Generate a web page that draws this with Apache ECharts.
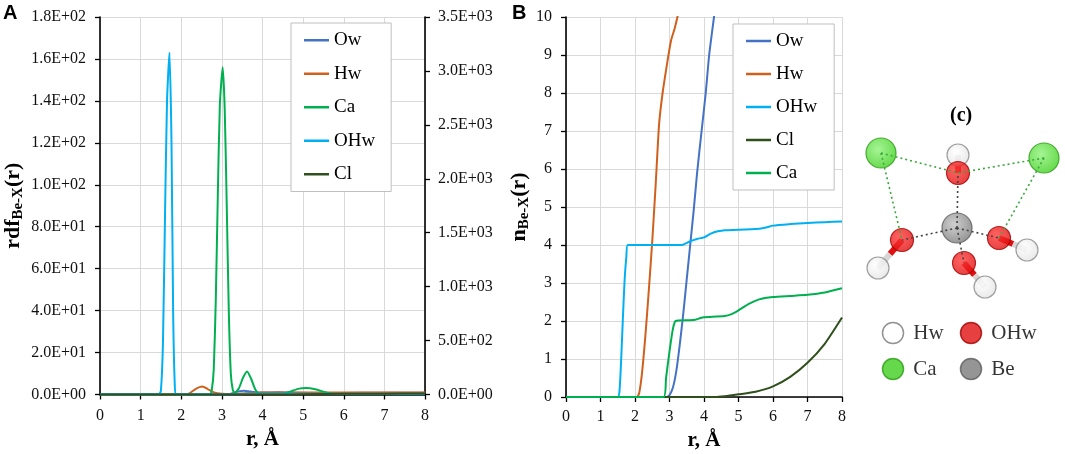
<!DOCTYPE html>
<html><head><meta charset="utf-8">
<script src="https://cdn.jsdelivr.net/npm/echarts@6/dist/echarts.min.js"></script>
<style>html,body{margin:0;padding:0;background:#fff}#c{width:1065px;height:454px}</style>
</head><body><div id="c"></div>
<script>
// ---------- Panel A: rdf Be-X(r) ----------
var rdfOw  = [[0,0],[3.0,0],[3.2,0.3],[3.4,1.4],[3.55,1.8],[3.7,1.4],[4.0,0.9],[4.4,1.1],[4.8,0.8],[5.5,0.7],[6.5,0.8],[8,0.8]];
var rdfHw  = [[0,0],[2.1,0],[2.2,0.5],[2.35,2.6],[2.52,3.8],[2.65,2.6],[2.8,1.0],[3.0,0.3],[3.3,0.2],[3.6,0.6],[4.0,0.9],[5,0.9],[6,0.9],[7,1.0],[8,1.0]];
var rdfCa  = [[0,0],[2.7,0],[2.75,2],[2.8,12],[2.85,45],[2.9,95],[2.95,138],[3.02,156],[3.07,136],[3.12,90],[3.17,40],[3.22,10],[3.27,2],[3.32,0.8],[3.42,3],[3.52,8],[3.62,11],[3.72,7.5],[3.82,2.5],[3.92,0.3],[4.5,0.3],[4.7,1.5],[4.9,2.8],[5.07,3.1],[5.3,2.5],[5.6,0.8],[5.8,0.2],[8,0.2]];
var rdfOHw = [[0,0],[1.45,0],[1.5,2],[1.55,25],[1.6,85],[1.65,140],[1.71,163],[1.76,120],[1.8,40],[1.84,5],[1.88,0],[3.4,0],[3.6,0.3],[8,0.3]];
var rdfCl  = [[0,0],[4.5,0],[5,0.1],[6,0.3],[7,0.4],[8,0.5]];
var legendA = ['Ow','Hw','Ca','OHw','Cl'];

// ---------- Panel B: n Be-X(r) ----------
var nOw  = [[0,0],[2.92,0],[3.0,0.05],[3.1,0.25],[3.2,0.7],[3.3,1.4],[3.4,2.2],[3.5,3.1],[3.6,4.0],[3.7,4.9],[3.8,5.9],[3.93,7.0],[4.05,8.0],[4.15,9.0],[4.29,10.0],[4.4,10.8]];
var nHw  = [[0,0],[2.05,0],[2.12,0.1],[2.2,0.6],[2.3,1.6],[2.4,2.8],[2.5,4.1],[2.6,5.6],[2.7,7.2],[2.8,8.0],[2.9,8.6],[2.97,9.0],[3.05,9.4],[3.15,9.7],[3.23,10.0],[3.35,10.5]];
var nOHw = [[0,0],[1.5,0],[1.55,0.15],[1.6,1.0],[1.65,2.1],[1.7,3.1],[1.75,3.7],[1.79,4.0],[3.35,4.0],[3.45,4.03],[3.6,4.1],[3.8,4.16],[4.0,4.2],[4.2,4.3],[4.4,4.36],[4.6,4.39],[5,4.4],[5.6,4.43],[5.8,4.46],[6,4.51],[6.5,4.55],[7,4.58],[7.5,4.6],[8,4.62]];
var nCl  = [[0,0],[4.3,0],[4.6,0.02],[5,0.07],[5.5,0.14],[6,0.28],[6.5,0.53],[7,0.9],[7.5,1.4],[8,2.09]];
var nCa  = [[0,0],[2.83,0],[2.9,0.5],[3.0,1.2],[3.1,1.8],[3.18,2.0],[3.5,2.02],[3.75,2.03],[3.9,2.08],[4.0,2.1],[4.6,2.13],[4.8,2.18],[5.0,2.28],[5.3,2.45],[5.6,2.57],[6.0,2.63],[6.5,2.66],[7.0,2.69],[7.5,2.75],[8,2.86]];
var legendB = ['Ow','Hw','OHw','Cl','Ca'];

// ---------- Panel (c): atoms (diagram units) ----------
var atomType = ['H','H','H','H','O','O','O','O','Be','Ca','Ca'];
var atomX    = [108, 28, 177, 135, 108, 52, 149, 114, 107, 31, 194];
var atomY    = [55, 168, 150, 187, 73, 140, 138, 163, 128, 53, 58];
var bondOH   = [[4,0],[5,1],[6,2],[7,3]];
var linkCa   = [[9,4],[9,5],[10,4],[10,6]];
var linkBe   = [[8,4],[8,5],[8,6],[8,7]];
var keyNames = ['Hw','OHw','Ca','Be'];
var keyType  = ['H','O','Ca','Be'];
var keyX     = [43, 121, 43, 121];
var keyY     = [233, 233, 269, 269];

var colors = {Ow:'#4472C4', Hw:'#D0601E', Ca:'#00B050', OHw:'#00B0F0', Cl:'#2F4F1C'};
var serif = 'Liberation Serif';

function sci(v){
  if (v === 0) return '0.0E+00';
  var s = v.toExponential(1).split('e'); var e = parseInt(s[1],10);
  return s[0] + 'E' + (e<0?'-':'+') + (Math.abs(e)<10?'0':'') + Math.abs(e);
}
function ln(name, data, gi){
  return {name:name, type:'line', data:data, xAxisIndex:gi, yAxisIndex:gi, showSymbol:false, symbol:'none',
    smooth:0.2, lineStyle:{width:2, color:colors[name], join:'round'}, itemStyle:{color:colors[name]}, clip:true, z:3};
}
var atomStyle = {
  H: {size:22, c0:'#ffffff', c1:'#e2e2e2', b:'#8a8a8a'},
  O: {size:23, c0:'#ff3a3a', c1:'#e01010', b:'#a00000'},
  Be:{size:30, c0:'#c4c4c4', c1:'#7a7a7a', b:'#5a5a5a'},
  Ca:{size:30, c0:'#8ff27a', c1:'#3ed01e', b:'#2a9a14'}
};
function grad(t){ var s=atomStyle[t]; return {type:'radial', x:0.4, y:0.38, r:0.65, colorStops:[{offset:0,color:s.c0},{offset:1,color:s.c1}]}; }

var atomData = atomType.map(function(t,i){
  return {value:[atomX[i], atomY[i]], symbolSize:atomStyle[t].size, itemStyle:{color:grad(t), borderColor:atomStyle[t].b, borderWidth:1.2}};
});
var bondData = [];
bondOH.forEach(function(p){
  var a=p[0], b=p[1]; var mx=(atomX[a]+atomX[b])/2, my=(atomY[a]+atomY[b])/2;
  bondData.push({coords:[[atomX[a],atomY[a]],[mx,my]], lineStyle:{color:'#e01010'}});
  bondData.push({coords:[[mx,my],[atomX[b],atomY[b]]], lineStyle:{color:'#d6d6d6'}});
});
function links(list){ return list.map(function(p){ return {coords:[[atomX[p[0]],atomY[p[0]]],[atomX[p[1]],atomY[p[1]]]]}; }); }
var keyData = keyNames.map(function(n,i){
  var t = keyType[i];
  return {name:n, value:[keyX[i], keyY[i]], symbolSize:21,
    itemStyle:{color:t==='H'?'#ffffff':atomStyle[t].c1, borderColor:t==='H'?'#777':atomStyle[t].b, borderWidth:1.5}};
});

var axisLineBlack = {show:true, lineStyle:{color:'#000', width:1.6}};
var tickOut = {show:true, length:5, lineStyle:{color:'#000', width:1.3}};
var grid = {show:true, lineStyle:{color:'#d9d9d9', width:1}};
var lbl = {fontFamily:serif, fontSize:16, color:'#111'};

function richTitle(main){
  return {
    name: '{a|' + main + '}{b|Be-X}{a|(r)}',
    nameLocation:'middle', nameRotate:90,
    nameTextStyle:{rich:{
      a:{fontFamily:serif, fontSize:22, fontWeight:'bold', color:'#000', lineHeight:26},
      b:{fontFamily:serif, fontSize:15, fontWeight:'bold', color:'#000', verticalAlign:'bottom', padding:[9,0,0,0]}
    }}
  };
}
var yA = Object.assign({type:'value', gridIndex:0, min:0, max:180, interval:20, position:'left',
  axisLine:axisLineBlack, axisTick:tickOut, splitLine:grid, nameGap:74,
  axisLabel:Object.assign({margin:14, formatter:sci}, lbl)}, richTitle('rdf'));
var yB = Object.assign({type:'value', gridIndex:1, min:0, max:10, interval:1, position:'left',
  axisLine:axisLineBlack, axisTick:tickOut, splitLine:grid, nameGap:28,
  axisLabel:Object.assign({margin:14}, lbl)}, richTitle('n'));

var option = {
  animation:false,
  backgroundColor:'#ffffff',
  grid:[
    {left:100, top:17, width:325, height:377.5, outerBoundsMode:'none', containLabel:false},
    {left:566, top:17, width:276, height:380, outerBoundsMode:'none', containLabel:false},
    {left:850, top:100, width:215, height:300, outerBoundsMode:'none', containLabel:false}
  ],
  xAxis:[
    {type:'value', gridIndex:0, min:0, max:8, interval:1, axisLine:axisLineBlack, axisTick:tickOut, splitLine:grid,
     axisLabel:Object.assign({margin:13}, lbl),
     name:'r, Å', nameLocation:'middle', nameGap:35, nameTextStyle:{fontFamily:serif, fontSize:21, fontWeight:'bold', color:'#000'}},
    {type:'value', gridIndex:1, min:0, max:8, interval:1, axisLine:axisLineBlack, axisTick:tickOut, splitLine:grid,
     axisLabel:Object.assign({margin:12}, lbl),
     name:'r, Å', nameLocation:'middle', nameGap:33, nameTextStyle:{fontFamily:serif, fontSize:21, fontWeight:'bold', color:'#000'}},
    {type:'value', gridIndex:2, min:0, max:215, show:false}
  ],
  yAxis:[
    yA,
    yB,
    {type:'value', gridIndex:2, min:0, max:300, inverse:true, show:false},
    {type:'value', gridIndex:0, min:0, max:3500, interval:500, position:'right',
     axisLine:axisLineBlack, axisTick:tickOut, splitLine:{show:false},
     axisLabel:Object.assign({margin:13, formatter:sci}, lbl)}
  ],
  legend:[
    {data:legendA, left:291, top:23, orient:'vertical', icon:'rect', itemWidth:25, itemHeight:2.5, itemGap:13,
     padding:[7,16,7,13], borderColor:'#bfbfbf', borderWidth:1, backgroundColor:'#fff',
     textStyle:{fontFamily:serif, fontSize:19, color:'#000', lineHeight:20.5}},
    {data:legendB, left:733, top:24, orient:'vertical', icon:'rect', itemWidth:25, itemHeight:2.5, itemGap:13,
     padding:[7,17,7,13], borderColor:'#bfbfbf', borderWidth:1, backgroundColor:'#fff',
     textStyle:{fontFamily:serif, fontSize:19, color:'#000', lineHeight:20}}
  ],
  graphic:[
    {type:'text', left:3, top:3, style:{text:'A', font:'bold 20px "Liberation Sans"', fill:'#000'}},
    {type:'text', left:512, top:3, style:{text:'B', font:'bold 20px "Liberation Sans"', fill:'#000'}},
    {type:'text', left:950, top:106, style:{text:'(c)', font:'bold 20px "Liberation Serif"', fill:'#000'}}
  ],
  series:[
    ln('Ow', rdfOw, 0), ln('Hw', rdfHw, 0), ln('Ca', rdfCa, 0), ln('OHw', rdfOHw, 0), ln('Cl', rdfCl, 0),
    ln('Ow', nOw, 1), ln('Hw', nHw, 1), ln('OHw', nOHw, 1), ln('Cl', nCl, 1), ln('Ca', nCa, 1),
    {name:'bonds', type:'lines', coordinateSystem:'cartesian2d', xAxisIndex:2, yAxisIndex:2, z:2,
     lineStyle:{width:6, opacity:1}, data:bondData, silent:true},
    {name:'atoms', type:'scatter', xAxisIndex:2, yAxisIndex:2, z:3, data:atomData, silent:true},
    {name:'caLinks', type:'lines', coordinateSystem:'cartesian2d', xAxisIndex:2, yAxisIndex:2, z:4,
     lineStyle:{width:1.6, color:'#3aa83a', type:[2,3], opacity:1}, data:links(linkCa), silent:true},
    {name:'beLinks', type:'lines', coordinateSystem:'cartesian2d', xAxisIndex:2, yAxisIndex:2, z:4,
     lineStyle:{width:1.6, color:'#444', type:[2,3], opacity:1}, data:links(linkBe), silent:true},
    {name:'atomKey', type:'scatter', xAxisIndex:2, yAxisIndex:2, z:3, data:keyData, silent:true,
     label:{show:true, position:'right', distance:9, formatter:'{b}', fontFamily:serif, fontSize:21, color:'#000'}}
  ]
};
var chart = echarts.init(document.getElementById('c'), null, {renderer:'canvas'});
chart.setOption(option);
</script></body></html>
